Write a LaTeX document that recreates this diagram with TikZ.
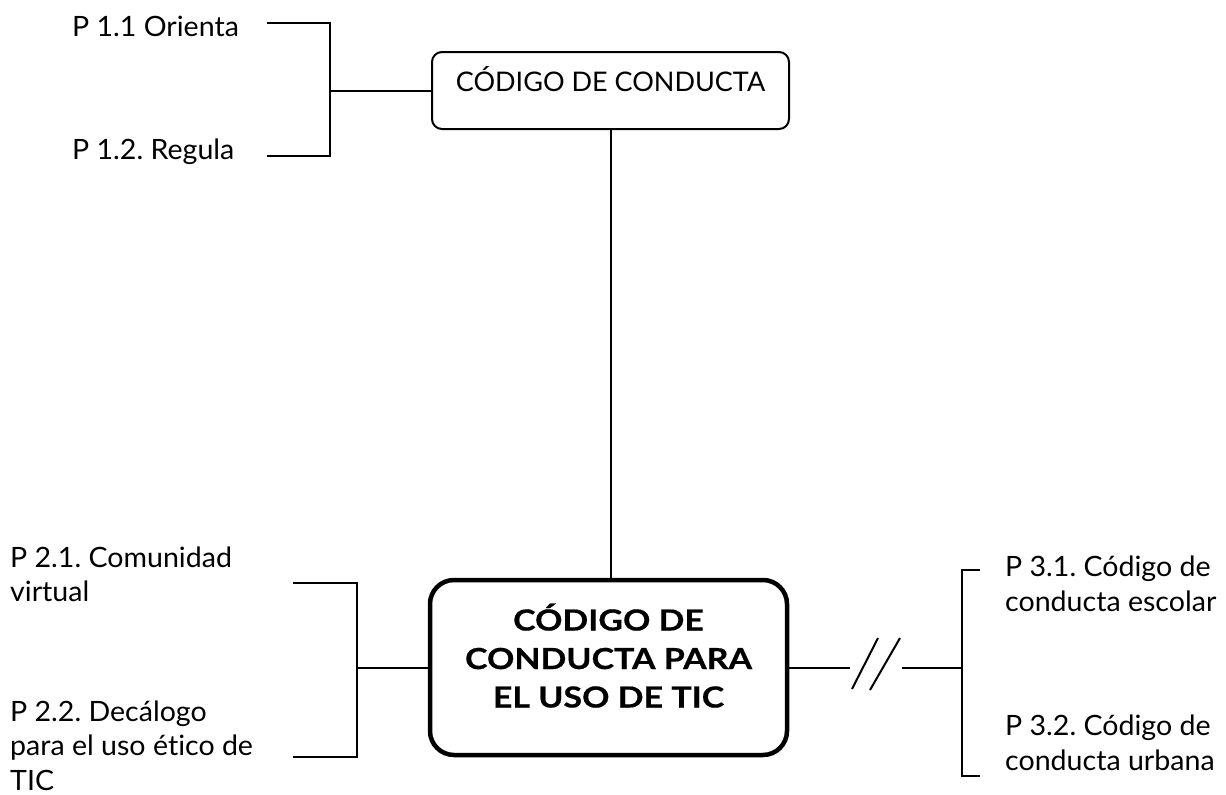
\documentclass[tikz,border=0pt]{standalone}
\usepackage{fontspec}
\setmainfont{Lato}[FakeStretch=1.02, Ligatures=NoCommon]
\newfontfamily\capsfont{Lato}[Ligatures=NoCommon]
\newfontfamily\ticfont{Lato}[FakeStretch=1.17, FakeBold=0.6, Ligatures=NoCommon]
\frenchspacing
\begin{document}
\frenchspacing
\begin{tikzpicture}[x=1pt,y=-1pt,
  conn/.style={line width=2pt, black},
  lbl/.style={inner sep=0pt, font=\fontsize{28}{35}\selectfont, align=left},
  smallbox/.style={draw, line width=2pt, rounded corners=10pt, inner sep=0pt,
     minimum width=357pt, font=\capsfont\fontsize{27}{34}\selectfont, text height=39pt, text depth=38pt},
  bigbox/.style={draw, line width=4.5pt, rounded corners=24pt, inner sep=0pt,
     minimum width=357pt, minimum height=175pt},
  bigtext/.style={inner sep=0pt, align=center, font=\ticfont\fontsize{29}{38.5}\selectfont\bfseries}
]
\useasboundingbox (0,0) rectangle (1226,795);

% labels
\node[lbl, anchor=base west] (p11) at (72,36) {P 1.1 Orienta};
\node[lbl, anchor=base west] (p12) at (72,159) {P 1.2. Regula};
\node[lbl, anchor=base west, font=\fontsize{28}{34}\selectfont] (p21) at (10,601) {P 2.1. Comunidad\\virtual};
\node[lbl, anchor=base west, font=\fontsize{28}{34.5}\selectfont] (p22) at (10,790) {P 2.2. Decálogo\\para el uso ético de\\TIC};
\node[lbl, anchor=base west] (p31) at (1005,611) {P 3.1. Código de\\conducta escolar};
\node[lbl, anchor=base west] (p32) at (1005,770) {P 3.2. Código de\\conducta urbana};

% boxes
\node[smallbox, anchor=base] (cc) at (610.5,91) {CÓDIGO DE CONDUCTA};
\node[bigbox] (tic) at (608.5,667.5) {};
\node[bigtext, anchor=base] (tictext) at (608.5,707.5) {CÓDIGO DE\\CONDUCTA PARA\\EL USO DE TIC};

% bracket 1
\coordinate (b1t) at (267,23);
\coordinate (b1b) at (267,156);
\draw[conn] (b1t) -- (330,23) -- (330,156) -- (b1b);
\draw[conn] (330,0 |- cc.west) -- (cc.west);

% vertical connector
\draw[conn] (cc.south) -- (cc.south |- tic.north);

% bracket 2
\coordinate (b2t) at (293,583);
\coordinate (b2b) at (293,757);
\draw[conn] (b2t) -- (357,583) -- (357,757) -- (b2b);
\draw[conn] (357,0 |- tic.west) -- (tic.west);

% right connector with break
\coordinate (r1) at (850,0 |- tic.east);
\coordinate (r2) at (902,0 |- tic.east);
\coordinate (r3) at (962,0 |- tic.east);
\draw[conn] (tic.east) -- (r1);
\draw[conn] (852,689) -- (878,638);
\draw[conn] (870,690) -- (900,638);
\draw[conn] (r2) -- (r3);
\coordinate (b3t) at (980,570);
\coordinate (b3b) at (980,776);
\draw[conn] (b3t) -- (962,570) -- (962,776) -- (b3b);
\end{tikzpicture}
\end{document}
